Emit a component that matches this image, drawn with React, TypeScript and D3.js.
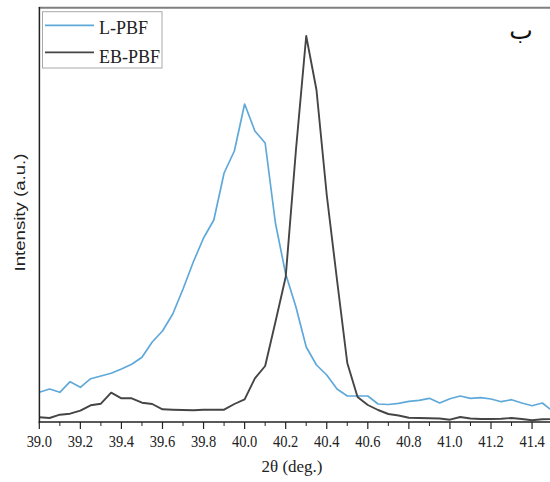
import React from 'react';
import * as d3 from 'd3';

const twoTheta = [
  39.0, 39.05, 39.1, 39.15, 39.2, 39.25, 39.3, 39.35, 39.4, 39.45,
  39.5, 39.55, 39.6, 39.65, 39.7, 39.75, 39.8, 39.85, 39.9, 39.95,
  40.0, 40.05, 40.1, 40.15, 40.2, 40.25, 40.3, 40.35, 40.4, 40.45,
  40.5, 40.55, 40.6, 40.65, 40.7, 40.75, 40.8, 40.85, 40.9, 40.95,
  41.0, 41.05, 41.1, 41.15, 41.2, 41.25, 41.3, 41.35, 41.4, 41.45, 41.5,
];

const lpbf = [
  29.7, 33, 29.7, 40.3, 34.7, 43.3, 46, 48.7, 53, 57.7,
  64.7, 80, 91, 108, 133, 160, 184, 202, 249, 271,
  318, 291, 279, 199, 148, 115, 75, 57, 47, 33,
  26, 26, 26, 18, 17.5, 18.7, 20.7, 21.7, 23.7, 19,
  23.3, 26, 23.7, 24.3, 23, 20.3, 22.3, 19, 16.3, 19, 11,
];

const ebpbf = [
  4.7, 4, 7.3, 8.3, 11.3, 16.7, 18.3, 29.3, 23.7, 23.7,
  19.3, 18, 12.7, 12.3, 12, 11.7, 12.3, 12.3, 12.3, 18,
  22.7, 43.7, 56, 100, 145, 272, 386, 332, 227, 142,
  59, 25, 17, 12, 8, 6.5, 4.3, 4, 3.7, 3.5,
  2.3, 5, 3.5, 3, 3, 3.3, 4, 3, 1.7, 2.7, 3,
];

const majorTicks = [39.0, 39.2, 39.4, 39.6, 39.8, 40.0, 40.2, 40.4, 40.6, 40.8, 41.0, 41.2, 41.4];
const minorTicks = [39.1, 39.3, 39.5, 39.7, 39.9, 40.1, 40.3, 40.5, 40.7, 40.9, 41.1, 41.3, 41.5];
const tickLabels = ['39.0', '39.2', '39.4', '39.6', '39.8', '40.0', '40.2', '40.4', '40.6', '40.8', '41.0', '41.2', '41.4'];
const seriesNames = ['L-PBF', 'EB-PBF'];
const seriesColors = ['#5fa9da', '#454545'];

const W = 550;
const H = 482;
const left = 39.4;
const top = 8;
const bottom = 422;

export default function App() {
  const x = d3.scaleLinear().domain([39, 41.5]).range([39.3, 552.6]);
  const y = d3.scaleLinear().domain([0, 414]).range([bottom, top]);
  const line = d3
    .line<number>()
    .x((_, i) => x(twoTheta[i]))
    .y((d) => y(d));

  const serif = '"Liberation Serif", "Times New Roman", serif';

  return (
    <svg
      width={W}
      height={H}
      style={{ position: 'absolute', left: 0, top: 0, background: '#fff' }}
    >
      <rect x={0} y={0} width={W} height={H} fill="#fff" />
      <defs>
        <clipPath id="plot">
          <rect x={left} y={top} width={W - left} height={bottom - top} />
        </clipPath>
      </defs>

      {/* top frame */}
      <line x1={left - 0.7} x2={W} y1={7.8} y2={7.8} stroke="#7f7f7f" strokeWidth={2} />

      <g clipPath="url(#plot)">
        <path d={line(lpbf) || ''} fill="none" stroke={seriesColors[0]} strokeWidth={1.7} strokeLinejoin="round" />
        <path d={line(ebpbf) || ''} fill="none" stroke={seriesColors[1]} strokeWidth={1.9} strokeLinejoin="round" />
      </g>

      {/* axes */}
      <line x1={left} x2={left} y1={7} y2={bottom + 0.7} stroke="#222" strokeWidth={1.5} />
      <line x1={left - 0.7} x2={W} y1={bottom} y2={bottom} stroke="#222" strokeWidth={1.5} />

      {majorTicks.map((t, i) => (
        <g key={'M' + i}>
          <line x1={x(t)} x2={x(t)} y1={bottom} y2={bottom + 7} stroke="#222" strokeWidth={1.2} />
          <text
            transform={`translate(${x(t)},446.5) scale(1,1.15)`}
            textAnchor="middle"
            fontFamily={serif}
            fontSize={14.5}
            fill="#222"
          >
            {tickLabels[i]}
          </text>
        </g>
      ))}
      {minorTicks.map((t, i) =>
        x(t) <= W ? (
          <line key={'m' + i} x1={x(t)} x2={x(t)} y1={bottom} y2={bottom + 4} stroke="#222" strokeWidth={1} />
        ) : null
      )}

      <text x={292} y={472} textAnchor="middle" fontFamily={serif} fontSize={17} fill="#222">
        2θ (deg.)
      </text>

      <text
        transform="translate(24.5,212.5) rotate(-90)"
        textAnchor="middle"
        fontFamily='"Liberation Sans", Arial, sans-serif'
        fontSize={15.5}
        textLength={118}
        lengthAdjust="spacingAndGlyphs"
        fill="#222"
      >
        Intensity (a.u.)
      </text>

      {/* legend */}
      <rect x={42.5} y={11.7} width={119.5} height={56.3} fill="#fff" stroke="#a8a8a8" strokeWidth={1} />
      {seriesNames.map((name, i) => (
        <g key={name}>
          <line x1={45} x2={94} y1={25.3 + i * 27} y2={25.3 + i * 27} stroke={seriesColors[i]} strokeWidth={1.7} />
          <text x={99} y={34 + i * 28.5} fontFamily={serif} fontSize={18} fill="#222">
            {name}
          </text>
        </g>
      ))}

      <text x={521} y={39} textAnchor="middle" fontFamily='"DejaVu Sans", sans-serif' fontSize={25} fill="#111">
        ب
      </text>
    </svg>
  );
}
